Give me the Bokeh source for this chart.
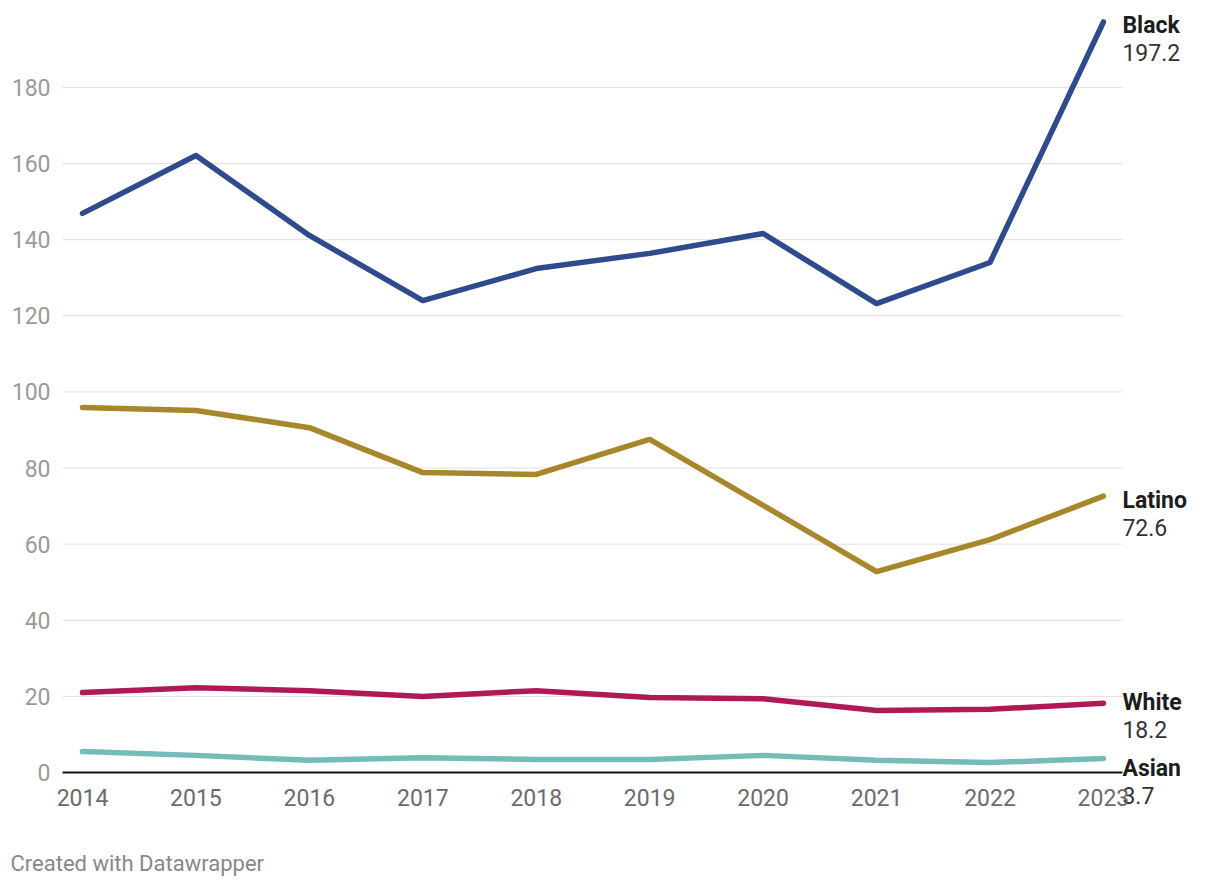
from bokeh.plotting import figure
from bokeh.models import Range1d, FixedTicker
from bokeh.core.properties import value
from bokeh.embed import file_html
from bokeh.resources import INLINE

years = [2014, 2015, 2016, 2017, 2018, 2019, 2020, 2021, 2022, 2023]
black = [146.9, 162.1, 141.1, 124.0, 132.4, 136.4, 141.6, 123.2, 134.0, 197.2]
latino = [95.9, 95.1, 90.6, 78.8, 78.3, 87.5, 70.2, 52.8, 61.2, 72.6]
white = [21.0, 22.3, 21.5, 20.0, 21.5, 19.7, 19.4, 16.3, 16.6, 18.2]
asian = [5.5, 4.5, 3.2, 3.9, 3.4, 3.4, 4.5, 3.2, 2.6, 3.7]
y_ticks = [0, 20, 40, 60, 80, 100, 120, 140, 160, 180]

# name, values, colour, label offset (px, downward)
series = [
    ("Black", black, "#2f4b8e", 4),
    ("Latino", latino, "#a8862b", 4),
    ("White", white, "#af1a55", -1),
    ("Asian", asian, "#73bcb8", 10),
]

FONT = "Roboto"
X0, X1 = 2013.824, 2023.167  # extent of the grid lines

# the frame covers the whole canvas; axes are pinned inside it
p = figure(width=1220, height=888, output_backend="svg", toolbar_location=None,
           x_range=Range1d(2013.277, 2024.032), y_range=Range1d(-30.478, 202.84),
           min_border=0, min_border_left=0, min_border_right=0,
           min_border_top=0, min_border_bottom=0)
p.outline_line_color = None
p.background_fill_color = "white"
p.border_fill_color = "white"
p.xgrid.grid_line_color = None
p.ygrid.grid_line_color = None

p.yaxis.ticker = FixedTicker(ticks=y_ticks)
p.xaxis.ticker = FixedTicker(ticks=years)
p.xaxis.fixed_location = 0
p.yaxis.fixed_location = X0
for ax in (p.xaxis[0], p.yaxis[0]):
    ax.axis_line_color = None
    ax.major_tick_line_color = None
    ax.minor_tick_line_color = None
    ax.major_tick_out = 0
    ax.major_tick_in = 0
    ax.major_label_text_font = FONT
    ax.major_label_text_font_size = "23px"
p.yaxis.major_label_text_color = "#9a9a9a"
p.xaxis.major_label_text_color = "#6b6b6b"
p.yaxis.major_label_standoff = 12
p.xaxis.major_label_standoff = 16

# horizontal grid lines, only across the data span
grid_y = y_ticks[1:]
p.segment(x0=[X0] * len(grid_y), x1=[X1] * len(grid_y), y0=grid_y, y1=grid_y,
          line_color="#e0e0e0", line_width=1)
p.segment(x0=[X0], x1=[X1], y0=[0], y1=[0], line_color="#111111", line_width=2)

for name, vals, color, dy in series:
    p.line(years, vals, line_color=color, line_width=5.5, line_cap="round", line_join="round")
    p.text(x=[years[-1]], y=[vals[-1]], text=[name], x_offset=19, y_offset=dy,
           text_font=value(FONT), text_font_size="23px", text_font_style="bold",
           text_color="#1d1d1d", text_baseline="middle", text_align="left")
    p.text(x=[years[-1]], y=[vals[-1]], text=[f"{vals[-1]:.1f}"], x_offset=19, y_offset=dy + 27,
           text_font=value(FONT), text_font_size="23px",
           text_color="#333333", text_baseline="middle", text_align="left")

p.text(x=[p.x_range.start], y=[p.y_range.start], text=["Created with Datawrapper"],
       x_offset=10, y_offset=-25, text_font=value(FONT), text_font_size="22px",
       text_color="#888888", text_baseline="middle", text_align="left")

open("out.html", "w").write(file_html(p, INLINE))
